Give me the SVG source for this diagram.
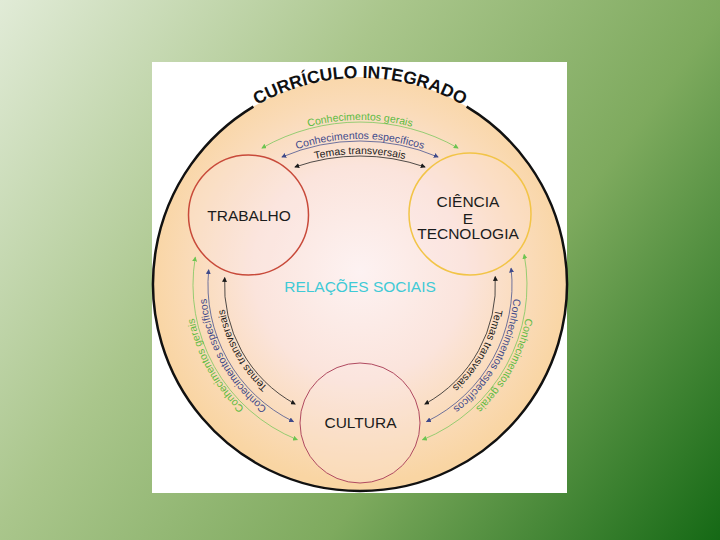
<svg xmlns="http://www.w3.org/2000/svg" width="720" height="540" viewBox="0 0 720 540">
  <defs>
    <linearGradient id="bg" gradientUnits="userSpaceOnUse" x1="0" y1="0" x2="720" y2="540">
      <stop offset="0" stop-color="#e1ebd7"/>
      <stop offset="0.35" stop-color="#aac68c"/>
      <stop offset="0.65" stop-color="#7eaa5e"/>
      <stop offset="1" stop-color="#156915"/>
    </linearGradient>
    <radialGradient id="disc" gradientUnits="userSpaceOnUse" cx="360" cy="272" r="212">
      <stop offset="0" stop-color="#fdf2f2"/>
      <stop offset="0.5" stop-color="#fbe4dc"/>
      <stop offset="0.8" stop-color="#fadbb8"/>
      <stop offset="1" stop-color="#f9d5a3"/>
    </radialGradient>
    <marker id="ag" viewBox="0 0 6 6" refX="5" refY="3" markerWidth="5" markerHeight="5" markerUnits="userSpaceOnUse" orient="auto-start-reverse">
      <path d="M0,0 L6,3 L0,6 z" fill="#6cc450"/>
    </marker>
    <marker id="ab" viewBox="0 0 6 6" refX="5" refY="3" markerWidth="5" markerHeight="5" markerUnits="userSpaceOnUse" orient="auto-start-reverse">
      <path d="M0,0 L6,3 L0,6 z" fill="#3f4a8a"/>
    </marker>
    <marker id="ak" viewBox="0 0 6 6" refX="5" refY="3" markerWidth="5" markerHeight="5" markerUnits="userSpaceOnUse" orient="auto-start-reverse">
      <path d="M0,0 L6,3 L0,6 z" fill="#1a1a1a"/>
    </marker>
    <!-- text paths -->
    <path id="tTitle" d="M 180.7 180.5 A 208 208 0 0 1 539.3 180.5"/>
    <path id="tTopG" d="M 231.4 166.8 A 200 200 0 0 1 488.6 166.8"/>
    <path id="tTopB" d="M 231.4 185.8 A 200 200 0 0 1 488.6 185.8"/>
    <path id="tTopK" d="M 231.4 200.8 A 200 200 0 0 1 488.6 200.8"/>
    <path id="tLG" d="M 327.8 450.9 A 169 169 0 0 1 202.2 224.4"/>
    <path id="tLB" d="M 330.6 436.2 A 154 154 0 0 1 216.2 229.8"/>
    <path id="tLK" d="M 333.8 420.0 A 137.5 137.5 0 0 1 231.6 235.7"/>
    <path id="tRG" d="M 517.8 224.4 A 169 169 0 0 1 392.2 450.9"/>
    <path id="tRB" d="M 503.8 229.8 A 154 154 0 0 1 389.4 436.2"/>
    <path id="tRK" d="M 488.4 235.7 A 137.5 137.5 0 0 1 386.2 420.0"/>
  </defs>
  <style>
    .lab { font-family: "Liberation Sans", Arial, sans-serif; font-size: 15.5px; fill: #1c1c1c; text-anchor: middle; }
    .arcl { font-family: "Liberation Sans", Arial, sans-serif; font-size: 10.5px; text-anchor: middle; }
    .g { fill: #5dbb42; }
    .b { fill: #3f4a8a; }
    .k { fill: #1a1a1a; }
    .lg { fill: none; stroke: #7cc860; stroke-width: 0.8; marker-start: url(#ag); marker-end: url(#ag); }
    .lb { fill: none; stroke: #4a5590; stroke-width: 0.8; marker-start: url(#ab); marker-end: url(#ab); }
    .lk { fill: none; stroke: #222; stroke-width: 0.8; marker-start: url(#ak); marker-end: url(#ak); }
  </style>

  <rect x="0" y="0" width="720" height="540" fill="url(#bg)"/>
  <rect x="152" y="62" width="415" height="431" fill="#ffffff"/>

  <g id="curriculo">
    <circle cx="360" cy="284" r="207" fill="url(#disc)"/>
    <path d="M 466.6 106.6 A 207 207 0 1 1 253.4 106.6" fill="none" stroke="#111" stroke-width="2.5"/>
    <text font-family="'Liberation Sans', Arial, sans-serif" font-size="17.5" font-weight="bold" fill="#111" text-anchor="middle"><textPath href="#tTitle" startOffset="50%">CURRÍCULO INTEGRADO</textPath></text>
    <text class="lab" x="360" y="292" font-size="14.5" style="fill:#3fcad6">RELAÇÕES SOCIAIS</text>
  </g>

  <g id="trabalho">
    <circle cx="248.5" cy="215" r="60" fill="#fde8e4" fill-opacity="0.3" stroke="#c84a3a" stroke-width="1.5"/>
    <text class="lab" x="249" y="221">TRABALHO</text>
  </g>
  <g id="ciencia">
    <circle cx="470" cy="214" r="61" fill="#fde8e4" fill-opacity="0.2" stroke="#f2c447" stroke-width="1.5"/>
    <text class="lab" x="468" y="206.5">CIÊNCIA</text>
    <text class="lab" x="468" y="224">E</text>
    <text class="lab" x="468" y="239">TECNOLOGIA</text>
  </g>
  <g id="cultura">
    <circle cx="360" cy="423" r="60" fill="#fde8e4" fill-opacity="0.3" stroke="#b04a60" stroke-width="1"/>
    <text class="lab" x="360.5" y="427.5">CULTURA</text>
  </g>

  <g id="connectors">
    <!-- top: Trabalho <-> Ciência -->
    <path class="lg" d="M 262 148 A 198 198 0 0 1 458 148"/>
    <path class="lb" d="M 282 157 A 198 198 0 0 1 438 157"/>
    <path class="lk" d="M 295 167 A 198 198 0 0 1 425 167"/>
    <!-- left: Cultura <-> Trabalho -->
    <path class="lg" d="M 297.2 439.7 A 167 167 0 0 1 195.3 257.2"/>
    <path class="lb" d="M 293.4 421.6 A 152 152 0 0 1 208.7 269.9"/>
    <path class="lk" d="M 295.1 404.0 A 135.5 135.5 0 0 1 224.7 277.7"/>
    <!-- right: Ciência <-> Cultura -->
    <path class="lg" d="M 524.2 254.6 A 167 167 0 0 1 422.6 439.8"/>
    <path class="lb" d="M 511.1 268.3 A 152 152 0 0 1 426.6 421.6"/>
    <path class="lk" d="M 495.2 276.7 A 135.5 135.5 0 0 1 424.9 404.0"/>

    <text class="arcl g"><textPath href="#tTopG" startOffset="50%">Conhecimentos gerais</textPath></text>
    <text class="arcl b"><textPath href="#tTopB" startOffset="50%">Conhecimentos específicos</textPath></text>
    <text class="arcl k"><textPath href="#tTopK" startOffset="50%">Temas transversais</textPath></text>

    <text class="arcl g"><textPath href="#tLG" startOffset="50%">Conhecimentos gerais</textPath></text>
    <text class="arcl b"><textPath href="#tLB" startOffset="50%">Conhecimentos específicos</textPath></text>
    <text class="arcl k"><textPath href="#tLK" startOffset="50%">Temas transversais</textPath></text>

    <text class="arcl g"><textPath href="#tRG" startOffset="50%">Conhecimentos gerais</textPath></text>
    <text class="arcl b"><textPath href="#tRB" startOffset="50%">Conhecimentos específicos</textPath></text>
    <text class="arcl k"><textPath href="#tRK" startOffset="50%">Temas transversais</textPath></text>
  </g>
</svg>
